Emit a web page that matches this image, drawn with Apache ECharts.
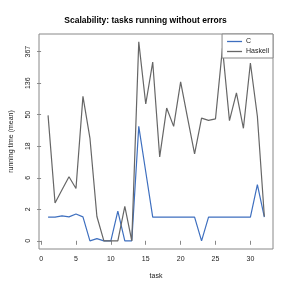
<!DOCTYPE html>
<html><head><meta charset="utf-8">
<script src="https://cdn.jsdelivr.net/npm/echarts@6/dist/echarts.min.js"></script>
<style>html,body{margin:0;padding:0;background:#fff}#c{width:291px;height:291px}</style>
</head><body><div id="c"></div>
<script>
// tasks 1..32
var tasks = [1,2,3,4,5,6,7,8,9,10,11,12,13,14,15,16,17,18,19,20,21,22,23,24,25,26,27,28,29,30,31,32];
// values expressed as position on the log-like axis (tick i <-> yTickLabels[i])
var cPos = [0.75,0.75,0.79,0.76,0.85,0.76,0.0,0.07,0.0,0.0,0.94,0.0,0.0,3.63,2.19,0.75,0.75,0.75,0.75,0.75,0.75,0.75,0.0,0.75,0.75,0.75,0.75,0.75,0.75,0.75,1.78,0.75];
var haskellPos = [3.98,1.20,1.62,2.03,1.66,4.58,3.26,0.77,0.0,0.0,0.0,1.09,0.0,6.31,4.34,5.67,2.66,4.21,3.63,5.04,3.89,2.76,3.89,3.82,3.87,6.12,3.81,4.69,3.57,5.64,3.95,0.77];
var yTickPos = [0,1,2,3,4,5,6];
var yTickLabels = ['0','2','6','18','50','136','367'];
var xTicks = [0,5,10,15,20,25,30];

function pairs(xs, ys){ return xs.map(function(x,i){ return [x, ys[i]]; }); }

var font = 'Liberation Sans, Arial, sans-serif';
var blue = '#3e6fbf', gray = '#666666';
var chart = echarts.init(document.getElementById('c'), null, {renderer:'canvas'});
chart.setOption({
  animation:false,
  backgroundColor:'#fff',
  title:{text:'Scalability: tasks running without errors', left:'center', top:11,
    textStyle:{fontFamily:font, fontSize:8.5, fontWeight:'bold', color:'#000'}},
  legend:{right:18, top:34, orient:'vertical', padding:[4,4,3,5], itemGap:3,
    borderColor:'#888', borderWidth:1, backgroundColor:'#fff',
    itemWidth:15, itemHeight:1.3, icon:'rect',
    textStyle:{fontFamily:font, fontSize:7, color:'#222', padding:[0,0,0,-1]},
    data:[{name:'C', itemStyle:{color:blue}}, {name:'Haskell', itemStyle:{color:gray}}]},
  grid:{left:33.5, right:18, top:34, bottom:42, show:true, borderColor:'#888', borderWidth:1, backgroundColor:'transparent'},
  xAxis:{type:'value', min:-0.3, max:33.24,
    name:'task', nameLocation:'middle', nameGap:24,
    nameTextStyle:{fontFamily:font, fontSize:7, color:'#222'},
    axisLine:{show:false},
    axisTick:{show:true, length:4, lineStyle:{color:'#888'}, customValues:xTicks},
    axisLabel:{fontFamily:font, fontSize:7, color:'#222', margin:7, customValues:xTicks},
    splitLine:{show:false}},
  yAxis:{type:'value', min:-0.26, max:6.56,
    name:'running time (mean)', nameLocation:'middle', nameGap:24,
    nameTextStyle:{fontFamily:font, fontSize:7, color:'#222'},
    axisLine:{show:false},
    axisTick:{show:true, length:4, lineStyle:{color:'#888'}, customValues:yTickPos},
    axisLabel:{fontFamily:font, fontSize:7, color:'#222', margin:7, rotate:90,
      customValues:yTickPos,
      formatter:function(v){ var i = yTickPos.indexOf(Math.round(v)); return i>=0 ? yTickLabels[i] : ''; }},
    splitLine:{show:false}},
  series:[
    {name:'C', type:'line', data:pairs(tasks, cPos), symbol:'none', color:blue,
      itemStyle:{color:blue}, lineStyle:{width:1.2, color:blue}},
    {name:'Haskell', type:'line', data:pairs(tasks, haskellPos), symbol:'none', color:gray,
      itemStyle:{color:gray}, lineStyle:{width:1.2, color:gray}}
  ]
});
</script></body></html>
